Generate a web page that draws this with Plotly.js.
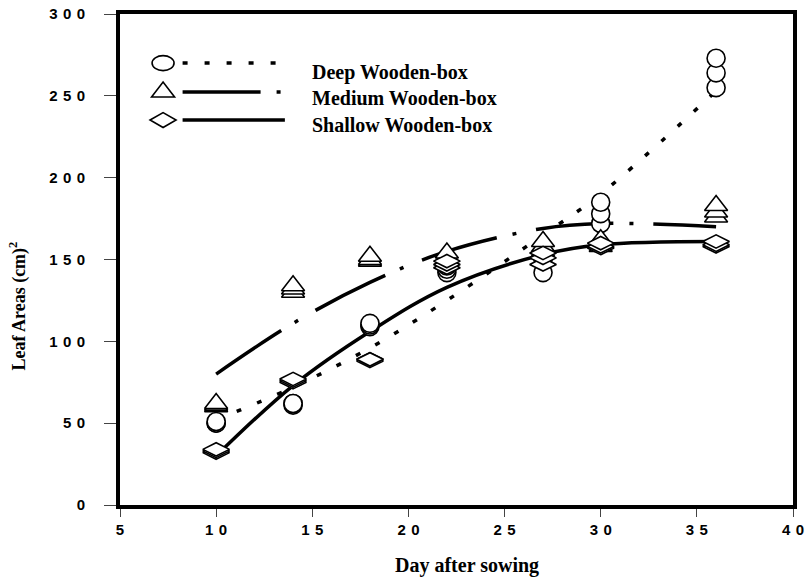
<!DOCTYPE html>
<html>
<head>
<meta charset="utf-8">
<script src="https://cdn.plot.ly/plotly-3.0.1.min.js"></script>
<style>html,body{margin:0;padding:0;background:#fff;}#chart{width:805px;height:582px;}</style>
</head>
<body>
<div id="chart"></div>
<script>
// Days after sowing
const days = [10, 14, 18, 22, 27, 30, 36];

// Fitted trend lines
const deepFit    = [52, 72, 96, 125, 165, 190, 253];
const mediumFit  = [80, 111, 136, 155, 169, 172, 170];
const shallowFit = [30, 73, 106, 133, 153, 159, 161];

// Replicate observations (three per day)
const deepRep1 = [50, 61, 109, 142, 142, 172, 255];
const deepRep2 = [50, 62, 110, 144, 150, 178, 264];
const deepRep3 = [51, 62, 111, 146, 155, 185, 273];

const mediumRep1 = [60, 130, 149, 150, 155, 158, 176];
const mediumRep2 = [61, 132, 150, 152, 158, 160, 179];
const mediumRep3 = [62, 134, 152, 154, 161, 162, 183];

const shallowRep1 = [32, 75, 88, 145, 147, 157, 158];
const shallowRep2 = [33, 76, 89, 147, 151, 158, 159];
const shallowRep3 = [34, 77, 89, 149, 154, 160, 161];

const seriesNames = ["Deep Wooden-box", "Medium Wooden-box", "Shallow Wooden-box"];
const xTitle = "Day after sowing";
const yTitle = "Leaf Areas (cm)<sup>2</sup>";

const xTickVals = [5, 10, 15, 20, 25, 30, 35, 40];
const yTickVals = [0, 50, 100, 150, 200, 250, 300];
const spaced = v => String(v).split("").join("\u00A0\u200A");

const DOT = "5px,17px";
const DASHDOT = "78px,16px,4px,20px";

function fitLine(y, dash) {
  return {x: days, y: y, type: "scatter", mode: "lines", showlegend: false, hoverinfo: "skip",
          line: {color: "#000", width: 3.5, dash: dash, shape: "spline", smoothing: 1}};
}
function reps(list, symbol, size) {
  const xs = [], ys = [];
  list.forEach(arr => arr.forEach((v, i) => { xs.push(days[i]); ys.push(v); }));
  return {x: xs, y: ys, type: "scatter", mode: "markers", showlegend: false, cliponaxis: false,
          marker: {symbol: symbol, size: size, color: "#fff", line: {color: "#000", width: 1.6}}};
}

const data = [
  fitLine(deepFit, DOT),
  fitLine(mediumFit, DASHDOT),
  fitLine(shallowFit, "solid"),
  reps([deepRep1, deepRep2, deepRep3], "circle", 18),
  reps([mediumRep1, mediumRep2, mediumRep3], "triangle-up", 20),
  reps([shallowRep1, shallowRep2, shallowRep3], "diamond-wide", 19)
];

// custom legend (paper coordinates)
const legRowsY = [0.900, 0.841, 0.784];
const legTextY = [0.880, 0.828, 0.774];
const legMarkX = 0.064;
const shapes = [];
const legDash = [DOT, DASHDOT, "solid"];
legRowsY.forEach((y, i) => {
  shapes.push({type: "line", xref: "paper", yref: "paper", x0: 0.093, x1: i === 1 ? 0.240 : 0.245, y0: y, y1: y,
               line: {color: "#000", width: 3.5, dash: legDash[i]}});
});
shapes.push({type: "circle", xref: "paper", yref: "paper", xsizemode: "pixel", ysizemode: "pixel",
             xanchor: legMarkX, yanchor: legRowsY[0], x0: -11, x1: 11, y0: -7.5, y1: 7.5,
             line: {color: "#000", width: 1.6}, fillcolor: "#fff"});
shapes.push({type: "path", xref: "paper", yref: "paper", xsizemode: "pixel", ysizemode: "pixel",
             xanchor: legMarkX, yanchor: legRowsY[1], path: "M-11.5,-5 L11.5,-5 L0,10 Z",
             line: {color: "#000", width: 1.6}, fillcolor: "#fff"});
shapes.push({type: "path", xref: "paper", yref: "paper", xsizemode: "pixel", ysizemode: "pixel",
             xanchor: legMarkX, yanchor: legRowsY[2], path: "M-13,0 L0,7.5 L13,0 L0,-7.5 Z",
             line: {color: "#000", width: 1.6}, fillcolor: "#fff"});

const serifBold = {family: "Liberation Serif, Times New Roman, serif", size: 20, color: "#000", weight: "bold"};
const annotations = seriesNames.map((t, i) => ({
  text: t, xref: "paper", yref: "paper", x: 0.282, y: legTextY[i], xanchor: "left", yanchor: "middle",
  showarrow: false, font: serifBold
}));
// axis titles (positioned like the reference)
annotations.push({text: xTitle, xref: "paper", yref: "paper", x: 0.515, y: -0.124, xanchor: "center", yanchor: "middle",
                  showarrow: false, font: {family: serifBold.family, size: 20, color: "#000", weight: "bold"}});
annotations.push({text: yTitle, xref: "paper", yref: "paper", x: -0.151, y: 0.405, xanchor: "center", yanchor: "middle",
                  textangle: -90, showarrow: false, font: {family: serifBold.family, size: 18, color: "#000", weight: "bold"}});

const tickFont = {family: "Liberation Sans, Arial, sans-serif", size: 15, color: "#000", weight: "bold"};

const layout = {
  width: 805, height: 582,
  margin: {l: 120, r: 12, t: 14, b: 77},
  paper_bgcolor: "#fff", plot_bgcolor: "#fff",
  showlegend: false,
  xaxis: {
    range: [5, 40], tickvals: xTickVals, ticktext: xTickVals.map(spaced),
    ticks: "outside", ticklen: 8, tickwidth: 1, tickcolor: "#444",
    showline: true, linewidth: 4, linecolor: "#000", mirror: true,
    showgrid: false, zeroline: false, tickfont: tickFont, ticklabelstandoff: 0,
    ticklabeloverflow: "allow"
  },
  yaxis: {
    range: [0, 300], tickvals: yTickVals, ticktext: yTickVals.map(spaced),
    ticks: "outside", ticklen: 12, tickwidth: 1, tickcolor: "#444",
    showline: true, linewidth: 4, linecolor: "#000", mirror: true,
    showgrid: false, zeroline: false, tickfont: tickFont, ticklabelstandoff: 16,
    ticklabeloverflow: "allow"
  },
  shapes: shapes,
  annotations: annotations
};

Plotly.newPlot("chart", data, layout, {displayModeBar: false, staticPlot: true});
</script>
</body>
</html>
